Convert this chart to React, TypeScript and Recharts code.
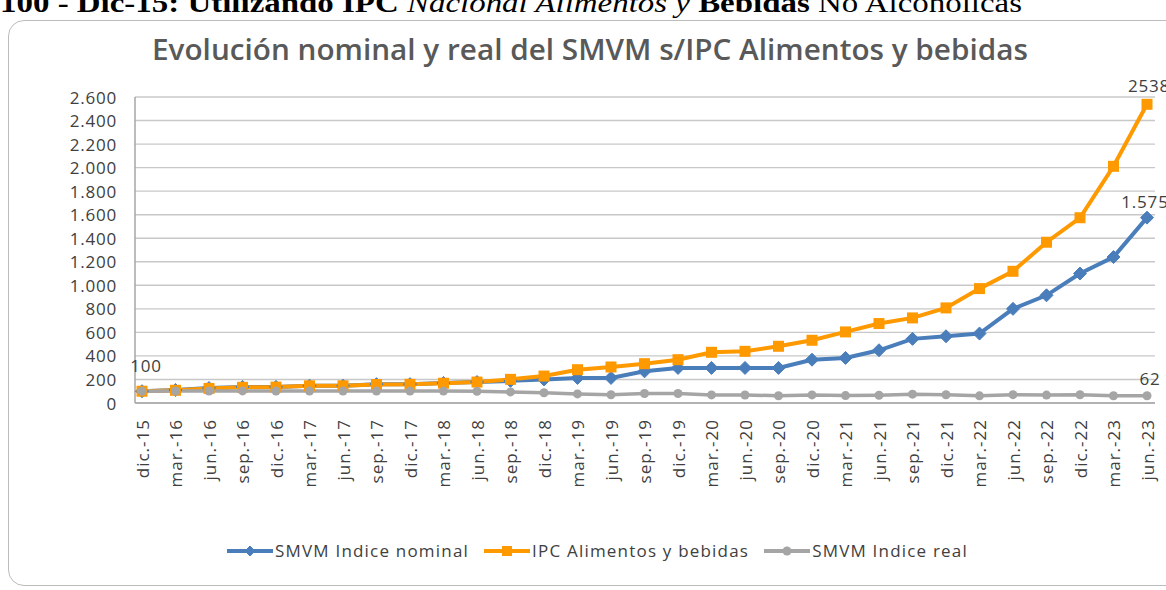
import { LineChart, Line, XAxis, YAxis, CartesianGrid, Legend, LabelList } from "recharts";

const periods = [
  "dic.-15", "mar.-16", "jun.-16", "sep.-16", "dic.-16", "mar.-17", "jun.-17", "sep.-17",
  "dic.-17", "mar.-18", "jun.-18", "sep.-18", "dic.-18", "mar.-19", "jun.-19", "sep.-19",
  "dic.-19", "mar.-20", "jun.-20", "sep.-20", "dic.-20", "mar.-21", "jun.-21", "sep.-21",
  "dic.-21", "mar.-22", "jun.-22", "sep.-22", "dic.-22", "mar.-23", "jun.-23",
];

const smvmNominal = [
  100, 110, 127, 137, 137, 147, 147, 160, 160, 170, 178, 188, 200, 213, 213, 269,
  298, 298, 298, 298, 368, 383, 448, 545, 567, 590, 800, 915, 1100, 1240, 1575,
];

const ipcAlimentos = [
  100, 108, 124, 133, 135, 146, 146, 157, 159, 168, 178, 201, 229, 283, 306, 334,
  368, 431, 439, 482, 533, 604, 675, 723, 808, 972, 1119, 1366, 1574, 2011, 2538,
];

const smvmReal = [
  100, 102, 102, 103, 101, 101, 101, 102, 101, 101, 100, 94, 87, 77, 70, 81,
  81, 69, 68, 62, 69, 63, 66, 75, 70, 61, 71, 67, 70, 62, 62,
];

const yTicks = [0, 200, 400, 600, 800, 1000, 1200, 1400, 1600, 1800, 2000, 2200, 2400, 2600];

const data = periods.map((p, i) => ({
  periodo: p,
  nominal: smvmNominal[i],
  ipc: ipcAlimentos[i],
  real: smvmReal[i],
}));

const BLUE = "#4a7ebb";
const ORANGE = "#ff9900";
const GRAY = "#a5a5a5";
const TEXT = "#404040";
const FONT = "'Open Sans', 'DejaVu Sans', sans-serif";

const fmt = (v: number) => String(v).replace(/\B(?=(\d{3})+(?!\d))/g, ".");

const Diamond = ({ cx, cy, size = 6, color = BLUE }: any) =>
  cx == null ? null : (
    <path d={`M${cx},${cy - size} L${cx + size},${cy} L${cx},${cy + size} L${cx - size},${cy} Z`} fill={color} stroke={color} strokeWidth={1} />
  );
const Square = ({ cx, cy, size = 6, color = ORANGE }: any) =>
  cx == null ? null : <rect x={cx - size} y={cy - size} width={size * 2} height={size * 2} fill={color} />;
const Circle = ({ cx, cy, r = 4.5, color = GRAY }: any) =>
  cx == null ? null : <circle cx={cx} cy={cy} r={r} fill={color} />;

const XTick = ({ x, y, payload }: any) => (
  <text
    x={x}
    y={y}
    transform={`rotate(-90 ${x} ${y})`}
    textAnchor="end"
    dominantBaseline="central"
    fill={TEXT}
    fontSize={17}
    fontFamily={FONT}
    letterSpacing={1}
  >
    {payload.value}
  </text>
);

const YTick = ({ x, y, payload }: any) => (
  <text x={x} y={y} textAnchor="end" dominantBaseline="central" fill={TEXT} fontSize={17} fontFamily={FONT} letterSpacing={0.8}>
    {fmt(payload.value)}
  </text>
);

// label only one point of a series, some px above it
const pointLabel = (idx: number, lift: number, dx = 0) => (props: any) => {
  const { x, y, value, index } = props;
  if (index !== idx) return null;
  return (
    <text x={x + dx} y={y - lift} textAnchor="middle" fill={TEXT} fontSize={17} fontFamily={FONT} letterSpacing={0.8}>
      {fmt(value)}
    </text>
  );
};

const legendItems = [
  { key: "nominal", name: "SMVM Indice nominal", color: BLUE, mark: (c: number) => <Diamond cx={c} cy={8} size={5} /> },
  { key: "ipc", name: "IPC Alimentos y bebidas", color: ORANGE, mark: (c: number) => <Square cx={c} cy={8} size={5} /> },
  { key: "real", name: "SMVM Indice real", color: GRAY, mark: (c: number) => <Circle cx={c} cy={8} r={4.5} /> },
];

const renderLegend = () => (
  <div
    style={{
      display: "flex",
      justifyContent: "center",
      alignItems: "center",
      fontFamily: FONT,
      fontSize: 17,
      letterSpacing: 1.2,
      color: TEXT,
    }}
  >
    {legendItems.map((it) => (
      <div key={it.key} style={{ display: "flex", alignItems: "center", marginRight: 15 }}>
        <svg width={46} height={16}>
          <line x1={0} y1={8} x2={46} y2={8} stroke={it.color} strokeWidth={4} />
          {it.mark(23)}
        </svg>
        <span style={{ marginLeft: 2 }}>{it.name}</span>
      </div>
    ))}
  </div>
);

export default function App() {
  return (
    <div style={{ position: "absolute", left: 0, top: 0, width: 1166, height: 590, overflow: "hidden", background: "#fff" }}>
      <svg style={{ position: "absolute", left: 0, top: 0 }} width={1166} height={40}>
        <text x={0} y={12} fontFamily="'Liberation Serif', 'Times New Roman', serif" fontSize={28} fontWeight="bold" fill="#000" textLength={1022} lengthAdjust="spacingAndGlyphs">
          100 - Dic-15: Utilizando IPC <tspan fontStyle="italic" fontWeight="normal">Nacional Alimentos y</tspan> Bebidas <tspan fontWeight="normal">No Alcohólicas</tspan>
        </text>
      </svg>
      <div
        style={{
          position: "absolute",
          left: 8,
          top: 20,
          width: 1200,
          height: 566,
          border: "1.5px solid #bcbcbc",
          borderRadius: 16,
          boxSizing: "border-box",
        }}
      />
      <svg style={{ position: "absolute", left: 0, top: 0 }} width={1166} height={80}>
        <text x={590} y={60} textAnchor="middle" fontFamily={FONT} fontSize={29} fontWeight={600} fill="#595959" textLength={876} lengthAdjust="spacingAndGlyphs">
          Evolución nominal y real del SMVM s/IPC Alimentos y bebidas
        </text>
      </svg>
      <div style={{ position: "absolute", left: 0, top: 0 }}>
        <LineChart width={1166} height={590} data={data} margin={{ top: 97, right: 11, bottom: 107, left: 75 }}>
          <CartesianGrid vertical={false} stroke="#c8c8c8" strokeWidth={1.4} />
          <XAxis
            dataKey="periodo"
            interval={0}
            height={80}
            tickLine={false}
            tickSize={0}
            tickMargin={16}
            tick={<XTick />}
            padding={{ left: 7, right: 8 }}
            axisLine={{ stroke: "#a6a6a6", strokeWidth: 1.5 }}
          />
          <YAxis
            width={60}
            domain={[0, 2600]}
            ticks={yTicks}
            interval={0}
            tickLine={false}
            tickSize={0}
            tickMargin={18}
            tick={<YTick />}
            axisLine={{ stroke: "#a6a6a6", strokeWidth: 1.5 }}
          />
          <Legend
            verticalAlign="middle"
            align="center"
            wrapperStyle={{ top: 539, left: 22, width: 1166 }}
            content={renderLegend}
          />
          <Line
            dataKey="nominal"
            name="SMVM Indice nominal"
            stroke={BLUE}
            strokeWidth={4}
            dot={(p: any) => <Diamond key={`d${p.index}`} cx={p.cx} cy={p.cy} size={6.5} />}
            isAnimationActive={false}
          >
            <LabelList dataKey="nominal" content={pointLabel(0, 19, 4)} />
            <LabelList dataKey="nominal" content={pointLabel(30, 10, -2)} />
          </Line>
          <Line
            dataKey="ipc"
            name="IPC Alimentos y bebidas"
            stroke={ORANGE}
            strokeWidth={4}
            dot={(p: any) => <Square key={`s${p.index}`} cx={p.cx} cy={p.cy} size={5.5} />}
            isAnimationActive={false}
          >
            <LabelList dataKey="ipc" content={(p: any) => (p.index === 30 ? (
              <text x={p.x + 2} y={p.y - 12} textAnchor="middle" fill={TEXT} fontSize={17} fontFamily={FONT} letterSpacing={0.8}>{p.value}</text>
            ) : null)} />
          </Line>
          <Line
            dataKey="real"
            name="SMVM Indice real"
            stroke={GRAY}
            strokeWidth={3.5}
            dot={(p: any) => <Circle key={`c${p.index}`} cx={p.cx} cy={p.cy} r={4.5} />}
            isAnimationActive={false}
          >
            <LabelList dataKey="real" content={pointLabel(30, 11, 3)} />
          </Line>
        </LineChart>
      </div>
    </div>
  );
}
